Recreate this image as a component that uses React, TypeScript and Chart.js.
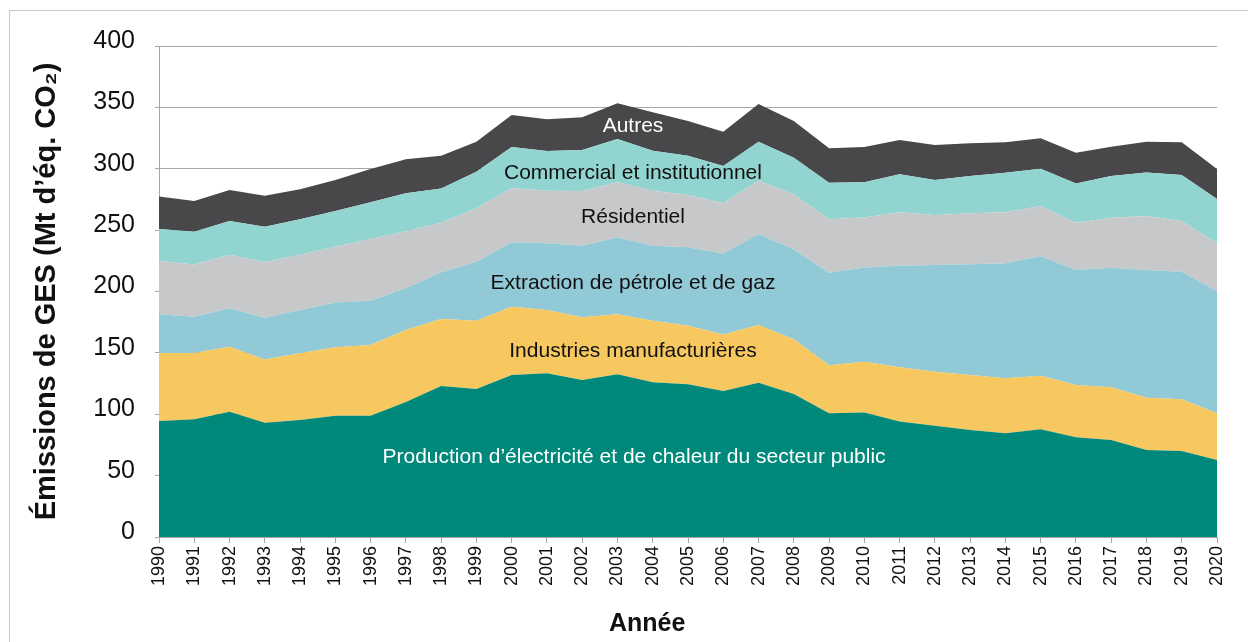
import React, { useEffect, useRef } from "react";
import { Chart, registerables } from "chart.js";

Chart.register(...registerables);

const years = [
  "1990","1991","1992","1993","1994","1995","1996","1997","1998","1999",
  "2000","2001","2002","2003","2004","2005","2006","2007","2008","2009",
  "2010","2011","2012","2013","2014","2015","2016","2017","2018","2019","2020",
];

const electricite = [94.5,96,102,93,95.3,98.8,98.8,110,123,120.5,132,133.4,128,132.5,126,124.4,119,125.7,116.5,100.8,101.5,94,90.7,87.2,84.5,87.7,81.2,79,70.9,70,62.7];
const manufacturieres = [55.5,54,53,51.7,54.3,55.7,57.6,58.6,54.6,55.7,55.6,51.6,51,48.9,50.2,47.6,46,47,44.5,39.2,41.3,44.2,44,44.8,44.8,43.7,42.6,42.9,42.6,42.2,38.1];
const petroleGaz = [31.4,29.5,31.3,34,35.4,36.5,36.1,34,38,48.1,52.6,54.3,58.3,62.7,61.1,64,66,74.1,73.4,75.3,76.7,82.8,86.9,90.1,93.7,97.6,93.7,97.5,104,103.9,99.6];
const residentiel = [43.4,42.5,43.7,45.1,45,45.5,50.3,46.4,40.4,43.5,44.1,42.7,44.6,44.9,44.7,42.6,40.8,43.5,44.6,43.5,40.7,43.5,40.7,41.6,41.5,40.7,38.5,40.6,44,41.3,38.9];
const commercial = [26.2,26.7,27.4,29,28.8,29.1,29.9,31,28,29.8,33.5,32.5,33.4,35.2,32.7,32,30.4,31.7,30,29.8,28.9,31,28.5,30.3,32.3,30.3,32,34,35.5,37.6,36.1];
const autres = [26.3,25,25.3,25.2,24.4,25.2,27.1,27.7,26.6,24.4,25.9,25.8,26.6,29.1,31.3,28.3,28,30.7,29.9,28.1,28.7,27.9,28.5,26.7,24.7,24.8,25,24,25,26.5,24.4];

const seriesNames = [
  "Production d’électricité et de chaleur du secteur public",
  "Industries manufacturières",
  "Extraction de pétrole et de gaz",
  "Résidentiel",
  "Commercial et institutionnel",
  "Autres",
];
const seriesColors = ["#00897A", "#F6C85F", "#92C9D6", "#C7C8CA", "#92D4CF", "#48484B"];
const labelColors = ["#FFFFFF", "#111111", "#111111", "#111111", "#111111", "#FFFFFF"];
// label anchors: [x index (fractional year index), y value]
const labelAnchors: [number, number][] = [
  [13.47, 65.2],
  [13.44, 151.5],
  [13.44, 206.9],
  [13.44, 260.7],
  [13.44, 296.5],
  [13.44, 334.8],
];

const yTicks = [0, 50, 100, 150, 200, 250, 300, 350, 400];
const xTitle = "Année";
const xTitleAnchor = 13.84;
const yTitle = "Émissions de GES (Mt d’éq. CO₂)";

const FONT = "'Liberation Sans', Arial, Helvetica, sans-serif";

function xAt(xs: any, xi: number) {
  const i0 = Math.floor(xi);
  const x0 = xs.getPixelForValue(i0);
  const x1 = xs.getPixelForValue(i0 + 1);
  return x0 + (x1 - x0) * (xi - i0);
}

const labelPlugin = {
  id: "areaLabels",
  afterDatasetsDraw(chart: any) {
    const { ctx, scales } = chart;
    const xs = scales.x;
    const ys = scales.y;
    ctx.save();
    ctx.font = `21px ${FONT}`;
    ctx.textAlign = "center";
    ctx.textBaseline = "middle";
    seriesNames.forEach((name, i) => {
      const [xi, yv] = labelAnchors[i];
      ctx.fillStyle = labelColors[i];
      ctx.fillText(name, xAt(xs, xi), ys.getPixelForValue(yv));
    });
    ctx.restore();
  },
  afterDraw(chart: any) {
    const { ctx, scales } = chart;
    const xs = scales.x;
    ctx.save();
    ctx.font = `bold 25px ${FONT}`;
    ctx.textAlign = "center";
    ctx.textBaseline = "middle";
    ctx.fillStyle = "#111111";
    ctx.fillText(xTitle, xAt(xs, xTitleAnchor), xs.bottom - 18);
    ctx.restore();
  },
};

export default function App() {
  const canvasRef = useRef<HTMLCanvasElement | null>(null);

  useEffect(() => {
    if (!canvasRef.current) return;
    const values = [electricite, manufacturieres, petroleGaz, residentiel, commercial, autres];
    const chart = new Chart(canvasRef.current, {
      type: "line",
      data: {
        labels: years,
        datasets: values.map((v, i) => ({
          label: seriesNames[i],
          data: v,
          backgroundColor: seriesColors[i],
          borderColor: seriesColors[i],
          borderWidth: 0,
          pointRadius: 0,
          tension: 0,
          fill: i === 0 ? "origin" : "-1",
        })),
      },
      options: {
        animation: false,
        responsive: true,
        maintainAspectRatio: false,
        layout: { padding: { left: 0, right: 31, top: 46, bottom: 0 } },
        plugins: {
          legend: { display: false },
          tooltip: { enabled: false },
        },
        scales: {
          x: {
            type: "category",
            offset: false,
            grid: {
              drawOnChartArea: false,
              drawTicks: true,
              tickLength: 6,
              color: "#A6A6A6",
            },
            border: { display: true, color: "#A6A6A6" },
            ticks: {
              autoSkip: false,
              maxRotation: 90,
              minRotation: 90,
              padding: 3,
              color: "#111111",
              font: { family: FONT, size: 18 },
            },
            title: { display: false },
            afterFit: (scale: any) => {
              scale.height = 105;
            },
          },
          y: {
            stacked: true,
            min: 0,
            max: 400,
            afterBuildTicks: (scale: any) => {
              scale.ticks = yTicks.map((v) => ({ value: v }));
            },
            grid: {
              color: "#A6A6A6",
              drawTicks: true,
              tickLength: 4,
            },
            border: { display: true, color: "#A6A6A6" },
            ticks: {
              padding: 20,
              labelOffset: -5,
              color: "#111111",
              font: { family: FONT, size: 25 },
            },
            title: {
              display: true,
              text: yTitle,
              color: "#111111",
              font: { family: FONT, size: 29, weight: "bold" },
              padding: { top: 30, bottom: 0 },
            },
            afterFit: (scale: any) => {
              scale.width = 159;
            },
          },
        },
      },
      plugins: [labelPlugin],
    });
    return () => chart.destroy();
  }, []);

  return (
    <div style={{ position: "fixed", left: 0, top: 0, width: 1248, height: 642, overflow: "hidden", background: "#fff" }}>
      <div
        style={{
          position: "absolute",
          left: 9,
          top: 10,
          width: 1260,
          height: 660,
          borderLeft: "1px solid #C8C8C8",
          borderTop: "1px solid #C8C8C8",
        }}
      />
      <div style={{ position: "absolute", left: 0, top: 0, width: 1248, height: 642 }}>
        <canvas ref={canvasRef} />
      </div>
    </div>
  );
}
